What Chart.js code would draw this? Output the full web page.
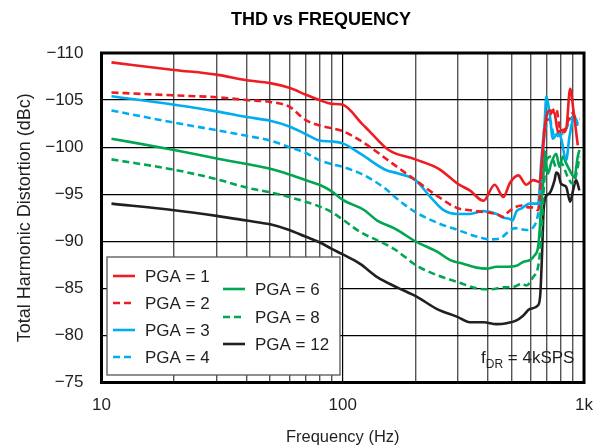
<!DOCTYPE html>
<html>
<head>
<meta charset="utf-8">
<script src="https://cdn.jsdelivr.net/npm/chart.js@4.4.1/dist/chart.umd.min.js"></script>
<style>
  html, body { margin: 0; padding: 0; background: #fff; }
  #wrap { width: 606px; height: 447px; }
</style>
</head>
<body>
<div id="wrap"><canvas id="thdChart" width="606" height="447"></canvas></div>
<script>
// ----------------------
// Datos (Hz, dBc)
// ----------------------
const freqPga1 = [11, 20, 30, 40, 50, 60, 70, 80, 90, 100, 120, 130, 155, 200, 250, 300, 336, 383, 426, 463, 493, 534, 577, 615, 655, 676, 698, 720, 755, 780, 804, 843, 876, 904, 942];
const thdPga1 = [-109.0, -108.2, -107.7, -107.1, -106.8, -106.3, -105.6, -105.0, -104.6, -104.5, -102.5, -101.6, -99.7, -98.7, -97.7, -96.1, -95.4, -94.3, -96.0, -94.7, -96.2, -97.0, -96.0, -96.5, -96.3, -100.0, -103.2, -103.9, -103.6, -101.6, -101.8, -102.0, -106.2, -103.9, -100.2];

const freqPga2 = [11, 20, 30, 40, 50, 60, 70, 80, 90, 100, 120, 140, 160, 200, 250, 300, 336, 383, 434, 463, 485, 517, 551, 587, 615, 645, 665, 687, 709, 743, 767, 791, 830, 857, 898, 927, 957];
const thdPga2 = [-105.8, -105.5, -105.3, -105.0, -104.8, -104.3, -102.9, -102.3, -102.0, -101.7, -100.6, -99.4, -98.3, -96.5, -94.7, -93.5, -93.3, -93.1, -92.9, -92.6, -93.1, -93.6, -93.8, -93.6, -93.6, -93.3, -96.8, -102.2, -103.0, -103.9, -104.1, -102.2, -101.6, -102.7, -103.6, -103.0, -103.0];

const freqPga3 = [11, 20, 30, 40, 50, 60, 70, 80, 90, 100, 120, 150, 170, 200, 231, 262, 297, 336, 383, 434, 463, 490, 505, 525, 551, 596, 645, 665, 687, 698, 720, 743, 780, 804, 843, 870, 912, 942];
const thdPga3 = [-105.4, -104.5, -103.8, -103.2, -102.8, -102.2, -101.4, -100.7, -100.6, -100.4, -99.2, -97.6, -97.2, -96.5, -94.7, -93.3, -92.9, -92.9, -93.2, -92.9, -92.5, -92.4, -92.2, -93.2, -93.5, -94.0, -94.0, -98.6, -102.7, -105.4, -103.6, -100.9, -101.5, -100.9, -98.6, -101.1, -103.2, -102.5];

const freqPga4 = [11, 20, 30, 40, 50, 60, 70, 80, 90, 100, 123, 150, 170, 200, 250, 300, 359, 408, 448, 485, 517, 577, 624, 645, 655, 672, 687, 720, 755, 791, 830, 870, 912, 942];
const thdPga4 = [-103.9, -102.6, -101.8, -101.2, -100.7, -100.0, -99.4, -98.6, -98.2, -97.9, -97.0, -95.6, -94.4, -93.1, -91.9, -91.2, -90.5, -90.2, -90.3, -91.0, -91.4, -91.2, -91.7, -92.9, -94.5, -98.6, -101.5, -102.9, -101.1, -101.3, -101.6, -102.7, -103.4, -102.2];

const freqPga6 = [11, 20, 30, 40, 50, 60, 70, 80, 90, 100, 123, 139, 163, 203, 246, 279, 317, 359, 395, 434, 478, 525, 559, 596, 624, 645, 655, 665, 676, 687, 698, 709, 731, 767, 791, 817, 843, 870, 912, 942, 957];
const thdPga6 = [-100.9, -99.7, -98.8, -98.2, -97.7, -97.1, -96.5, -96.0, -95.3, -94.4, -93.3, -92.2, -91.4, -89.9, -88.9, -88.0, -87.6, -87.2, -87.1, -87.3, -87.3, -87.4, -87.8, -88.0, -88.5, -89.4, -91.2, -94.0, -96.1, -99.6, -98.0, -97.2, -98.3, -99.3, -97.9, -99.0, -98.3, -97.6, -96.8, -99.0, -99.7];

const freqPga8 = [11, 20, 30, 40, 50, 60, 70, 80, 90, 100, 118, 139, 163, 203, 246, 297, 359, 408, 463, 517, 551, 577, 615, 645, 662, 672, 680, 698, 731, 767, 804, 857, 898, 942, 957];
const thdPga8 = [-98.7, -97.6, -96.6, -95.7, -95.2, -94.7, -94.2, -93.7, -93.1, -92.3, -91.0, -90.1, -89.2, -87.4, -86.4, -85.7, -85.0, -84.9, -85.1, -85.2, -85.5, -85.3, -86.2, -87.3, -89.8, -92.9, -95.4, -98.6, -99.0, -97.9, -98.3, -96.8, -96.1, -97.9, -99.0];

const freqPga12 = [11, 20, 30, 40, 50, 60, 70, 80, 90, 100, 118, 139, 168, 203, 246, 297, 336, 383, 434, 478, 525, 559, 596, 645, 659, 670, 680, 693, 720, 755, 767, 780, 804, 843, 876, 904, 927, 957];
const thdPga12 = [-94.0, -93.3, -92.7, -92.2, -91.8, -91.2, -90.5, -89.9, -89.2, -88.6, -87.6, -86.2, -85.1, -84.1, -82.8, -82.0, -81.4, -81.4, -81.2, -81.3, -81.6, -82.1, -82.8, -83.2, -84.4, -88.7, -93.3, -94.7, -95.1, -96.5, -97.3, -97.2, -96.1, -95.8, -94.2, -95.6, -96.5, -95.4];

const seriesLabels = ['PGA = 1', 'PGA = 2', 'PGA = 3', 'PGA = 4', 'PGA = 6', 'PGA = 8', 'PGA = 12'];

// Ejes
const xGridFreqs = [10, 20, 30, 40, 50, 60, 70, 80, 90, 100, 200, 300, 400, 500, 600, 700, 800, 900, 1000];
const xTickLabels = { 10: '10', 100: '100', 1000: '1k' };
const yMin = -110, yMax = -75, yStep = 5;

// ----------------------
// Estilos
// ----------------------
const FONT = "'Liberation Sans', Arial, sans-serif";
const RED = '#ee1d23', BLUE = '#00aeef', GREEN = '#00a651', BLACK = '#231f20';
const DASH = [7, 4];

const toPts = (fs, vs) => fs.map((f, i) => ({ x: f, y: vs[i] }));

function mkSet(label, fs, vs, color, dashed) {
  return {
    label,
    data: toPts(fs, vs),
    borderColor: color,
    backgroundColor: color,
    borderWidth: 2.6,
    borderDash: dashed ? DASH : [],
    pointRadius: 0,
    fill: false,
    cubicInterpolationMode: 'monotone'
  };
}

// posiciones de la leyenda (dos columnas)
const legendSlots = [[113, 276], [113, 303], [113, 330], [113, 357], [223, 289], [223, 317], [223, 344]];

const extrasPlugin = {
  id: 'extras',
  afterDatasetsDraw(chart) {
    const ctx = chart.ctx;
    const a = chart.chartArea;
    ctx.save();

    // marco
    ctx.strokeStyle = '#000';
    ctx.lineWidth = 3;
    ctx.strokeRect(a.left, a.top, a.right - a.left, a.bottom - a.top);

    // leyenda
    ctx.fillStyle = '#fff';
    ctx.fillRect(107, 257, 233, 118);
    ctx.strokeStyle = '#555';
    ctx.lineWidth = 1.3;
    ctx.strokeRect(107, 257, 233, 118);
    ctx.font = '17px ' + FONT;
    ctx.textBaseline = 'middle';
    ctx.textAlign = 'left';
    chart.data.datasets.forEach((ds, i) => {
      const [lx, ly] = legendSlots[i];
      ctx.beginPath();
      ctx.strokeStyle = ds.borderColor;
      ctx.lineWidth = 2.6;
      ctx.setLineDash(ds.borderDash);
      ctx.moveTo(lx, ly);
      ctx.lineTo(lx + 22, ly);
      ctx.stroke();
      ctx.setLineDash([]);
      ctx.fillStyle = '#231f20';
      ctx.fillText(ds.label, lx + 32, ly + 1);
    });

    // nota f_DR
    ctx.fillStyle = '#231f20';
    ctx.textBaseline = 'alphabetic';
    let x = 481;
    const base = 363;
    ctx.font = '17px ' + FONT;
    ctx.fillText('f', x, base);
    x += ctx.measureText('f').width;
    ctx.font = '12px ' + FONT;
    ctx.fillText('DR', x, base + 5);
    x += ctx.measureText('DR').width;
    ctx.font = '17px ' + FONT;
    ctx.fillText(' = 4kSPS', x, base);

    // titulo
    ctx.font = 'bold 18px ' + FONT;
    ctx.textAlign = 'center';
    ctx.textBaseline = 'middle';
    ctx.fillStyle = '#000';
    ctx.fillText('THD vs FREQUENCY', 321, 20);
    ctx.restore();
  }
};

const ctx = document.getElementById('thdChart').getContext('2d');
const thdChart = new Chart(ctx, {
  type: 'line',
  data: {
    datasets: [
      mkSet(seriesLabels[0], freqPga1, thdPga1, RED, false),
      mkSet(seriesLabels[1], freqPga2, thdPga2, RED, true),
      mkSet(seriesLabels[2], freqPga3, thdPga3, BLUE, false),
      mkSet(seriesLabels[3], freqPga4, thdPga4, BLUE, true),
      mkSet(seriesLabels[4], freqPga6, thdPga6, GREEN, false),
      mkSet(seriesLabels[5], freqPga8, thdPga8, GREEN, true),
      mkSet(seriesLabels[6], freqPga12, thdPga12, BLACK, false)
    ]
  },
  options: {
    responsive: false,
    animation: false,
    layout: { padding: { top: 53, right: 19, bottom: 0, left: 0 } },
    plugins: { legend: { display: false }, title: { display: false }, tooltip: { enabled: false } },
    scales: {
      x: {
        type: 'logarithmic',
        min: 10,
        max: 1000,
        afterBuildTicks: s => { s.ticks = xGridFreqs.map(v => ({ value: v })); },
        afterFit: s => { s.height = 64.5; },
        border: { display: false },
        grid: {
          drawTicks: false,
          color: c => (xTickLabels[c.tick && c.tick.value] ? '#000' : '#555'),
          lineWidth: c => (xTickLabels[c.tick && c.tick.value] ? 1.2 : 1.4)
        },
        ticks: {
          autoSkip: false,
          maxRotation: 0,
          minRotation: 0,
          padding: 13,
          color: '#231f20',
          font: { family: FONT, size: 17 },
          callback: v => xTickLabels[v] || ''
        },
        title: {
          display: true,
          text: 'Frequency (Hz)',
          color: '#231f20',
          font: { family: FONT, size: 16.5 },
          padding: { top: 0, bottom: 0 }
        }
      },
      y: {
        type: 'linear',
        min: yMin,
        max: yMax,
        reverse: true,
        afterFit: s => { s.width = 101.5; },
        border: { display: false },
        grid: { drawTicks: false, color: '#000', lineWidth: 1.2 },
        ticks: {
          stepSize: yStep,
          padding: 18,
          color: '#231f20',
          font: { family: FONT, size: 17 },
          callback: v => '\u2212' + Math.abs(v)
        },
        title: {
          display: true,
          text: 'Total Harmonic Distortion (dBc)',
          color: '#231f20',
          font: { family: FONT, size: 18 },
          padding: { top: 14, bottom: 0 }
        }
      }
    }
  },
  plugins: [extrasPlugin]
});
</script>
</body>
</html>
